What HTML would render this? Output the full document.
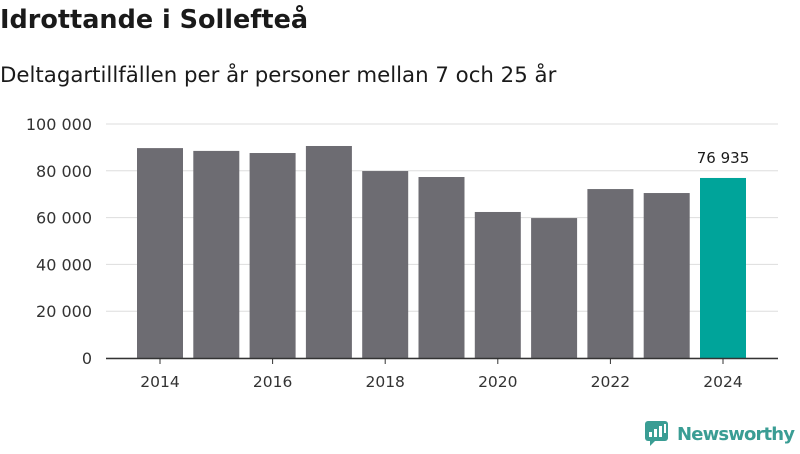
<!DOCTYPE html>
<html><head><meta charset="utf-8"><style>
body{margin:0;width:800px;height:450px;background:#fff;font-family:"DejaVu Sans","Liberation Sans",sans-serif;overflow:hidden}
</style></head><body>
<svg width="800" height="450" id="c">
<text x="0" y="28" font-size="25.5" font-weight="bold" fill="#1a1a1a">Idrottande i Sollefteå</text>
<text x="0" y="82" font-size="21.3" fill="#1a1a1a">Deltagartillfällen per år personer mellan 7 och 25 år</text>
<g>
<rect x="645" y="421" width="23" height="20" rx="3" fill="#3a9d94"/>
<polygon points="650,440 656,440 650,446" fill="#3a9d94"/>
<rect x="649" y="432" width="3" height="5" fill="#fff"/><rect x="654" y="429" width="3" height="8" fill="#fff"/><rect x="659" y="426" width="3" height="11" fill="#fff"/><rect x="664" y="424" width="2" height="9" fill="#fff"/>
<text x="677" y="440" font-size="18" font-weight="bold" fill="#3a9d94" textLength="118">Newsworthy</text>
</g>
<g id="grid"></g><g id="bars"></g><g id="axes"></g>
</svg>
<script>
const years=[2014,2015,2016,2017,2018,2019,2020,2021,2022,2023,2024];
const values=[89700,88500,87600,90600,79900,77350,62400,59800,72200,70500,76935];
const yTicks=[0,20000,40000,60000,80000,100000];
const xTickYears=[2014,2016,2018,2020,2022,2024];
const ns="http://www.w3.org/2000/svg";
const y=v=>358-v*0.00234;
const x=i=>160+i*56.3;
const fmt=v=>v.toLocaleString('en-US').replace(/,/g,' ');
function el(t,a,p){const e=document.createElementNS(ns,t);for(const k in a)e.setAttribute(k,a[k]);document.getElementById(p).appendChild(e);return e;}
yTicks.forEach(t=>{
 const l=el('line',{x1:106,x2:778,y1:y(t),y2:y(t),stroke:'#ddd','stroke-width':1},'grid');
 
 
 const tx=el('text',{x:92,y:y(t)+6,'font-size':16,fill:'#333','text-anchor':'end'},'axes');tx.textContent=fmt(t);
 
 
});
values.forEach((v,i)=>{
 const last=i===values.length-1;
 const r=el('rect',{x:x(i)-23,y:y(v),width:46,height:358-y(v),fill:last?'#00a49a':'#6d6c72'},'bars');
 
 
 if(last){const t=el('text',{x:x(i),y:y(v)-15,'font-size':15,fill:'#1a1a1a','text-anchor':'middle'},'bars');t.textContent=fmt(v);
 
 }
});
const ax=el('line',{x1:106,x2:778,y1:358.5,y2:358.5,stroke:'#333','stroke-width':1.5},'axes');


xTickYears.forEach(yr=>{
 const i=years.indexOf(yr);
 const tk=el('line',{x1:x(i),x2:x(i),y1:358,y2:364,stroke:'#333'},'axes');
 
 
 const t=el('text',{x:x(i),y:387,'font-size':15.5,fill:'#333','text-anchor':'middle'},'axes');t.textContent=yr;
 
 
});
</script>
</body></html>
